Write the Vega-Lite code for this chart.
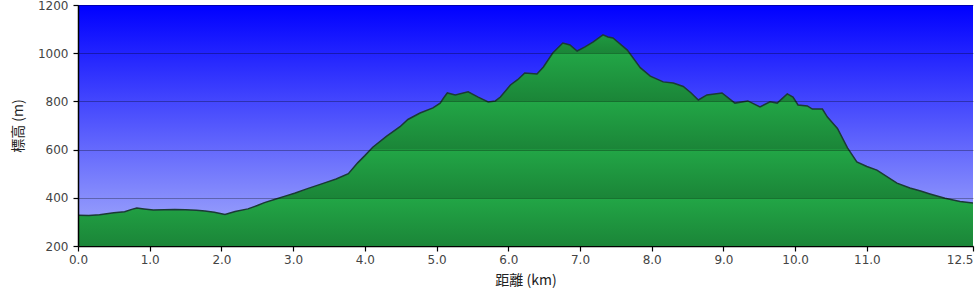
{
  "$schema": "https://vega.github.io/schema/vega-lite/v6.json",
  "width": 895,
  "height": 241,
  "autosize": {"type": "none"},
  "padding": {"left": 78, "top": 5, "right": 7, "bottom": 52},
  "background": "white",
  "config": {
    "view": {
      "stroke": null,
      "fill": {"gradient": "linear", "x1": 0, "y1": 0, "x2": 0, "y2": 1, "stops": [{"offset": 0, "color": "#0000ff"}, {"offset": 1, "color": "#a8b0fb"}]}
    },
    "font": "DejaVu Sans"
  },
  "data": {
    "values": [
      {"km": 0.0, "elev": 328}, {"km": 0.15, "elev": 327}, {"km": 0.3, "elev": 330}, {"km": 0.5, "elev": 338},
      {"km": 0.65, "elev": 342}, {"km": 0.75, "elev": 352}, {"km": 0.82, "elev": 358}, {"km": 0.92, "elev": 354},
      {"km": 1.05, "elev": 349}, {"km": 1.2, "elev": 350}, {"km": 1.35, "elev": 351}, {"km": 1.5, "elev": 350},
      {"km": 1.65, "elev": 348}, {"km": 1.77, "elev": 345}, {"km": 1.9, "elev": 340}, {"km": 2.05, "elev": 331},
      {"km": 2.19, "elev": 343}, {"km": 2.37, "elev": 354}, {"km": 2.5, "elev": 368}, {"km": 2.6, "elev": 380},
      {"km": 2.75, "elev": 394}, {"km": 2.9, "elev": 408}, {"km": 3.03, "elev": 420}, {"km": 3.2, "elev": 438},
      {"km": 3.44, "elev": 462}, {"km": 3.6, "elev": 478}, {"km": 3.77, "elev": 500}, {"km": 3.9, "elev": 545},
      {"km": 4.0, "elev": 575}, {"km": 4.11, "elev": 610}, {"km": 4.3, "elev": 655}, {"km": 4.49, "elev": 695},
      {"km": 4.6, "elev": 725}, {"km": 4.77, "elev": 752}, {"km": 4.95, "elev": 773}, {"km": 5.05, "elev": 793},
      {"km": 5.1, "elev": 815}, {"km": 5.15, "elev": 835}, {"km": 5.26, "elev": 827}, {"km": 5.44, "elev": 840},
      {"km": 5.58, "elev": 818}, {"km": 5.72, "elev": 798}, {"km": 5.82, "elev": 802}, {"km": 5.89, "elev": 818},
      {"km": 6.03, "elev": 868}, {"km": 6.13, "elev": 890}, {"km": 6.23, "elev": 918}, {"km": 6.4, "elev": 914},
      {"km": 6.49, "elev": 943}, {"km": 6.62, "elev": 1001}, {"km": 6.76, "elev": 1042}, {"km": 6.86, "elev": 1034},
      {"km": 6.96, "elev": 1009}, {"km": 7.07, "elev": 1026}, {"km": 7.18, "elev": 1046}, {"km": 7.32, "elev": 1076},
      {"km": 7.39, "elev": 1067}, {"km": 7.46, "elev": 1063}, {"km": 7.66, "elev": 1013}, {"km": 7.84, "elev": 940},
      {"km": 7.98, "elev": 905}, {"km": 8.16, "elev": 881}, {"km": 8.3, "elev": 876}, {"km": 8.44, "elev": 862},
      {"km": 8.55, "elev": 835}, {"km": 8.65, "elev": 806}, {"km": 8.77, "elev": 827}, {"km": 8.98, "elev": 835},
      {"km": 9.16, "elev": 793}, {"km": 9.34, "elev": 802}, {"km": 9.51, "elev": 777}, {"km": 9.65, "elev": 798},
      {"km": 9.75, "elev": 793}, {"km": 9.89, "elev": 831}, {"km": 9.97, "elev": 818}, {"km": 10.04, "elev": 785},
      {"km": 10.17, "elev": 781}, {"km": 10.24, "elev": 768}, {"km": 10.38, "elev": 768}, {"km": 10.45, "elev": 735},
      {"km": 10.59, "elev": 688}, {"km": 10.73, "elev": 607}, {"km": 10.86, "elev": 549}, {"km": 11.0, "elev": 530},
      {"km": 11.14, "elev": 515}, {"km": 11.42, "elev": 461}, {"km": 11.6, "elev": 441}, {"km": 11.75, "elev": 428},
      {"km": 11.88, "elev": 416}, {"km": 12.09, "elev": 398}, {"km": 12.3, "elev": 385}, {"km": 12.48, "elev": 378}
    ]
  },
  "encoding": {
    "x": {
      "field": "km", "type": "quantitative",
      "scale": {"domain": [0, 12.48], "nice": false, "zero": true},
      "axis": {
        "values": [0, 1, 2, 3, 4, 5, 6, 7, 8, 9, 10, 11, 12.48],
        "format": ".1f",
        "title": "距離   (km)",
        "titleFont": "Noto Sans CJK JP", "titleFontSize": 14, "titleFontWeight": "normal", "titleColor": "#222",
        "titlePadding": 8,
        "labelFont": "DejaVu Sans", "labelFontSize": 12, "labelColor": "#444", "labelPadding": 3,
        "labelAlign": {"condition": {"test": "datum.value > 12", "value": "right"}, "value": "center"},
        "labelBound": false, "labelOverlap": false,
        "domainColor": "#000", "domainWidth": 1.5, "tickColor": "#000", "tickSize": 5, "tickWidth": 1.2,
        "grid": false
      }
    },
    "y": {
      "field": "elev", "type": "quantitative",
      "scale": {"domain": [200, 1200], "nice": false, "zero": false},
      "axis": {
        "values": [200, 400, 600, 800, 1000, 1200],
        "format": "d",
        "title": "標高 (m)",
        "titleFont": "Noto Sans CJK JP", "titleFontSize": 14, "titleFontWeight": "normal", "titleColor": "#222",
        "titlePadding": 12,
        "labelFont": "DejaVu Sans", "labelFontSize": 12, "labelColor": "#444", "labelPadding": 5,
        "domainColor": "#000", "domainWidth": 1.5, "tickColor": "#000", "tickSize": 5, "tickWidth": 1.2,
        "grid": true, "gridColor": "#000", "gridOpacity": 0.3, "gridWidth": 1,
        "zindex": 1
      }
    }
  },
  "layer": [
    {
      "mark": {
        "type": "area", "clip": true, "interpolate": "linear",
        "fill": {"gradient": "linear", "x1": 0, "y1": 0, "x2": 0, "y2": 1, "stops": [
          {"offset": 0, "color": "#1f9a40"},
          {"offset": 0.085, "color": "#1b8538"},
          {"offset": 0.087, "color": "#22a646"},
          {"offset": 0.314, "color": "#1b8538"},
          {"offset": 0.316, "color": "#22a646"},
          {"offset": 0.542, "color": "#1b8538"},
          {"offset": 0.544, "color": "#22a646"},
          {"offset": 0.771, "color": "#1b8538"},
          {"offset": 0.773, "color": "#22a646"},
          {"offset": 1, "color": "#1b8538"}
        ]}
      },
      "encoding": {"y2": {"datum": 200}}
    },
    {
      "mark": {"type": "line", "clip": true, "color": "#1b3a35", "strokeWidth": 1.5}
    }
  ]
}
